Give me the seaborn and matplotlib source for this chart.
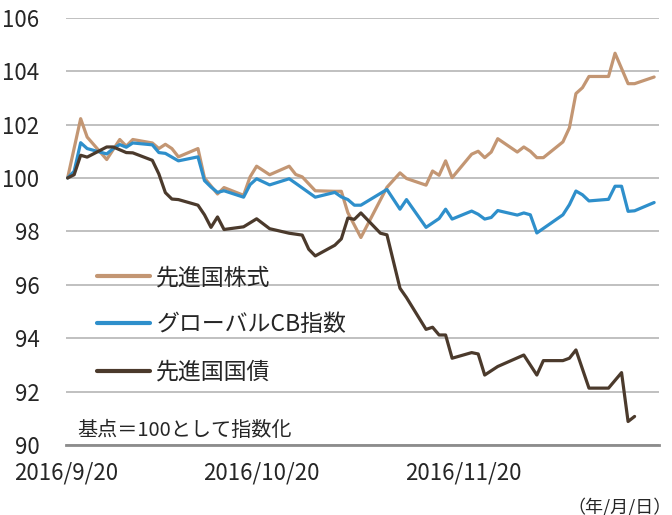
import pandas as pd
import matplotlib
matplotlib.use("Agg")
import matplotlib.pyplot as plt
import seaborn as sns

# vertices (index, base = 100)
eq_dates = ["2016-09-20", "2016-09-22", "2016-09-23", "2016-09-26", "2016-09-28", "2016-09-29",
            "2016-09-30", "2016-10-03", "2016-10-04", "2016-10-05", "2016-10-06", "2016-10-07",
            "2016-10-10", "2016-10-11", "2016-10-13", "2016-10-14", "2016-10-17", "2016-10-18",
            "2016-10-19", "2016-10-21", "2016-10-24", "2016-10-25", "2016-10-26", "2016-10-28",
            "2016-10-31", "2016-11-01", "2016-11-02", "2016-11-04", "2016-11-08", "2016-11-10",
            "2016-11-11", "2016-11-14", "2016-11-15", "2016-11-16", "2016-11-17", "2016-11-18",
            "2016-11-21", "2016-11-22", "2016-11-23", "2016-11-24", "2016-11-25", "2016-11-28",
            "2016-11-29", "2016-11-30", "2016-12-01", "2016-12-02", "2016-12-05", "2016-12-06",
            "2016-12-07", "2016-12-08", "2016-12-09", "2016-12-12", "2016-12-13", "2016-12-15",
            "2016-12-16", "2016-12-19"]
eq_vals = [100.0, 102.22, 101.53, 100.69, 101.44, 101.19,
           101.44, 101.31, 101.10, 101.26, 101.10, 100.79,
           101.10, 100.0, 99.40, 99.64, 99.35, 100.04,
           100.44, 100.12, 100.44, 100.13, 100.04, 99.52,
           99.50, 99.50, 98.70, 97.77, 99.65, 100.19,
           99.98, 99.73, 100.26, 100.10, 100.64, 100.01,
           100.89, 101.0, 100.76, 100.97, 101.47, 100.97,
           101.16, 101.0, 100.76, 100.76, 101.35, 101.88,
           103.16, 103.38, 103.80, 103.80, 104.67, 103.53,
           103.53, 103.78]

cb_dates = ["2016-09-20", "2016-09-21", "2016-09-22", "2016-09-23", "2016-09-26", "2016-09-27",
            "2016-09-28", "2016-09-29", "2016-09-30", "2016-10-03", "2016-10-04", "2016-10-05",
            "2016-10-07", "2016-10-10", "2016-10-11", "2016-10-12", "2016-10-13", "2016-10-14",
            "2016-10-17", "2016-10-18", "2016-10-19", "2016-10-21", "2016-10-24", "2016-10-25",
            "2016-10-28", "2016-10-31", "2016-11-01", "2016-11-02", "2016-11-03", "2016-11-04",
            "2016-11-08", "2016-11-09", "2016-11-10", "2016-11-11", "2016-11-14", "2016-11-16",
            "2016-11-17", "2016-11-18", "2016-11-21", "2016-11-22", "2016-11-23", "2016-11-24",
            "2016-11-25", "2016-11-28", "2016-11-29", "2016-11-30", "2016-12-01", "2016-12-05",
            "2016-12-06", "2016-12-07", "2016-12-08", "2016-12-09", "2016-12-12", "2016-12-13",
            "2016-12-14", "2016-12-15", "2016-12-16", "2016-12-19"]
cb_vals = [100.0, 100.25, 101.32, 101.10, 100.90, 101.10,
           101.25, 101.15, 101.31, 101.24, 100.95, 100.92,
           100.64, 100.79, 99.90, 99.66, 99.46, 99.52,
           99.28, 99.75, 99.97, 99.74, 99.97, 99.80,
           99.28, 99.46, 99.29, 99.19, 98.98, 98.98,
           99.57, 99.20, 98.83, 99.19, 98.15, 98.48,
           98.83, 98.46, 98.76, 98.64, 98.46, 98.52,
           98.78, 98.61, 98.69, 98.62, 97.94, 98.62,
           99.0, 99.51, 99.37, 99.14, 99.20, 99.69,
           99.69, 98.75, 98.77, 99.08]

bond_dates = ["2016-09-20", "2016-09-21", "2016-09-22", "2016-09-23", "2016-09-26", "2016-09-27",
              "2016-09-29", "2016-09-30", "2016-10-03", "2016-10-04", "2016-10-05", "2016-10-06",
              "2016-10-07", "2016-10-10", "2016-10-11", "2016-10-12", "2016-10-13", "2016-10-14",
              "2016-10-17", "2016-10-19", "2016-10-21", "2016-10-24", "2016-10-26", "2016-10-27",
              "2016-10-28", "2016-10-31", "2016-11-01", "2016-11-02", "2016-11-03", "2016-11-04",
              "2016-11-07", "2016-11-08", "2016-11-10", "2016-11-11", "2016-11-14", "2016-11-15",
              "2016-11-16", "2016-11-17", "2016-11-18", "2016-11-21", "2016-11-22", "2016-11-23",
              "2016-11-25", "2016-11-29", "2016-12-01", "2016-12-02", "2016-12-05", "2016-12-06",
              "2016-12-07", "2016-12-09", "2016-12-12", "2016-12-14", "2016-12-15", "2016-12-16"]
bond_vals = [100.0, 100.12, 100.85, 100.78, 101.16, 101.16,
             100.95, 100.94, 100.66, 100.15, 99.45, 99.21,
             99.19, 98.98, 98.62, 98.15, 98.54, 98.07,
             98.17, 98.47, 98.10, 97.93, 97.86, 97.33,
             97.08, 97.48, 97.72, 98.50, 98.45, 98.69,
             97.93, 97.87, 95.87, 95.52, 94.33, 94.41,
             94.12, 94.12, 93.25, 93.46, 93.41, 92.62,
             92.94, 93.37, 92.62, 93.16, 93.16, 93.25,
             93.56, 92.13, 92.13, 92.71, 90.88, 91.07]

labels = ["先進国株式", "グローバルCB指数", "先進国国債"]
colors = ["#C39673", "#2E8FCB", "#4B3A2C"]

df = pd.concat([
    pd.DataFrame({"date": pd.to_datetime(eq_dates), "value": eq_vals, "series": labels[0]}),
    pd.DataFrame({"date": pd.to_datetime(cb_dates), "value": cb_vals, "series": labels[1]}),
    pd.DataFrame({"date": pd.to_datetime(bond_dates), "value": bond_vals, "series": labels[2]}),
])

sns.set_theme(style="white")
plt.rcParams["font.family"] = ["Noto Sans CJK JP", "DejaVu Sans"]

fig = plt.figure(figsize=(6.72, 5.15), dpi=100)
ax = fig.add_axes([0.0982, 0.1359, 0.8825, 0.8297])

sns.lineplot(data=df, x="date", y="value", hue="series", hue_order=labels,
             palette=colors, linewidth=2.3, estimator=None, sort=False, ax=ax)

# axis ticks sit a few hours before the data dates in the reference
shift = pd.Timedelta(hours=6)
tick_dates = pd.to_datetime(["2016-09-20", "2016-10-20", "2016-11-20", "2016-12-20"]) - shift
ax.set_xlim(tick_dates[0], tick_dates[-1])
ax.set_xticks(tick_dates)
ax.set_xticklabels(["2016/9/20", "2016/10/20", "2016/11/20", ""], fontsize=16)

ax.set_ylim(90, 106)
ax.set_yticks(range(90, 107, 2))
ax.set_yticklabels([str(v) for v in range(90, 107, 2)], fontsize=16)

ax.set_xlabel("")
ax.set_ylabel("")
ax.yaxis.grid(True, color="#c0c0c0", linewidth=1.4)
ax.xaxis.grid(False)
for s in ["top", "right", "left"]:
    ax.spines[s].set_visible(False)
ax.spines["bottom"].set_color("#8c8c8c")
ax.spines["bottom"].set_linewidth(2)
ax.tick_params(axis="x", direction="out", length=5, width=1.5, color="#8c8c8c", pad=7)
ax.tick_params(axis="y", length=0, pad=19)

leg = ax.legend(loc="upper left", bbox_to_anchor=(0.052, 0.418), frameon=False,
                fontsize=16.5, handlelength=2.3, handletextpad=0.3, labelspacing=1.05,
                borderpad=0, borderaxespad=0)
for line in leg.get_lines():
    line.set_linewidth(3)

ax.text(0.0185, 0.035, "基点＝100として指数化", transform=ax.transAxes,
        fontsize=14.5, ha="left", va="center")
fig.text(0.999, 0.016, "（年/月/日）", fontsize=13, ha="right", va="center")

plt.savefig("out.png", dpi=100)
